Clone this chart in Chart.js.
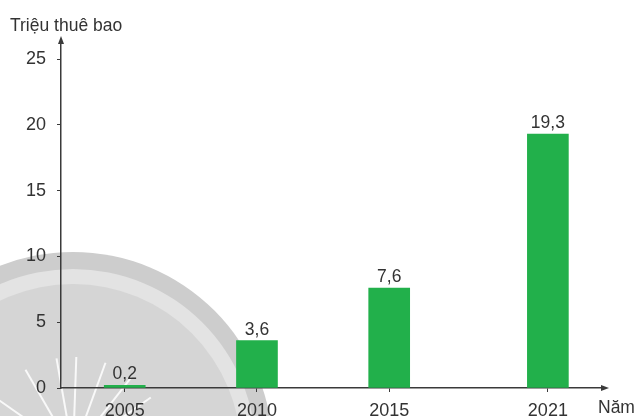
<!DOCTYPE html>
<html>
<head>
<meta charset="utf-8">
<title>Triệu thuê bao</title>
<script src="https://cdn.jsdelivr.net/npm/chart.js@4"></script>
<style>
    html, body { margin: 0; padding: 0; background: #fff; }
</style>
</head>
<body>
<canvas id="chart" width="634" height="416"></canvas>
<script>
const years = [2005, 2010, 2015, 2021];
const subscribers = [0.2, 3.6, 7.6, 19.3];
const yTicks = [0, 5, 10, 15, 20, 25];

const FONT = '"Liberation Sans", Arial, sans-serif';
const TEXT = '#333333';
const AXIS = '#3a3a3a';

// Vietnamese style decimals: 19,3
const fmt = (v) => String(v).replace('.', ',');

/**
 * Background watermark, axis arrows, axis captions and the value labels
 * above each bar.
 */
const decor = {
    id: 'decor',
    beforeDraw(chart) {
        const ctx = chart.ctx;
        const cx = 73, cy = 452;
        ctx.save();
        ctx.fillStyle = '#cdcdcd';
        ctx.beginPath(); ctx.arc(cx, cy, 200, 0, Math.PI * 2); ctx.fill();
        ctx.fillStyle = '#e3e3e3';
        ctx.beginPath(); ctx.arc(cx, cy, 183, 0, Math.PI * 2); ctx.fill();
        ctx.fillStyle = '#d5d5d5';
        ctx.beginPath(); ctx.arc(cx, cy, 168, 0, Math.PI * 2); ctx.fill();
        // faint rays in the lower left
        ctx.strokeStyle = 'rgba(255,255,255,0.85)';
        ctx.lineWidth = 2;
        [-165, -145, -120, -100, -88, -70, -52, -35].forEach((deg) => {
            const a = deg * Math.PI / 180;
            ctx.beginPath();
            ctx.moveTo(cx + Math.cos(a) * 20, cy + Math.sin(a) * 20);
            ctx.lineTo(cx + Math.cos(a) * 95, cy + Math.sin(a) * 95);
            ctx.stroke();
        });
        ctx.restore();
    },
    afterDatasetsDraw(chart) {
        const ctx = chart.ctx;
        ctx.save();
        ctx.fillStyle = TEXT;
        ctx.font = '17.5px ' + FONT;
        ctx.textAlign = 'center';
        ctx.textBaseline = 'alphabetic';
        chart.getDatasetMeta(0).data.forEach((bar, i) => {
            ctx.fillText(fmt(subscribers[i]), bar.x, bar.y - 6);
        });
        ctx.restore();
    },
    afterDraw(chart) {
        const ctx = chart.ctx;
        const { left, right, top, bottom } = chart.chartArea;
        ctx.save();
        ctx.fillStyle = AXIS;
        // arrow on the value axis
        ctx.beginPath();
        ctx.moveTo(left, top - 4);
        ctx.lineTo(left - 3, top + 4);
        ctx.lineTo(left + 3, top + 4);
        ctx.closePath();
        ctx.fill();
        // arrow on the year axis
        ctx.beginPath();
        ctx.moveTo(right + 4, bottom);
        ctx.lineTo(right - 4, bottom - 3);
        ctx.lineTo(right - 4, bottom + 3);
        ctx.closePath();
        ctx.fill();

        ctx.fillStyle = TEXT;
        ctx.font = '17.5px ' + FONT;
        ctx.textAlign = 'left';
        ctx.textBaseline = 'alphabetic';
        ctx.fillText('Triệu thuê bao', 10, 31);
        ctx.fillText('Năm', 598, 413);
        ctx.restore();
    },
};

const tickFont = { family: FONT, size: 18 };

new Chart(document.getElementById('chart'), {
    type: 'bar',
    data: {
        datasets: [{
            data: years.map((year, i) => ({ x: year, y: subscribers[i] })),
            backgroundColor: '#22b04b',
            borderWidth: 0,
            barThickness: 41,
        }],
    },
    options: {
        responsive: false,
        animation: false,
        layout: { padding: { top: 40, right: 29, left: 0, bottom: 0 } },
        plugins: { legend: { display: false }, tooltip: { enabled: false } },
        scales: {
            x: {
                type: 'linear',
                min: 2002.59,
                max: 2023.16,
                offset: false,
                grid: { offset: false, drawOnChartArea: false, drawTicks: true, tickLength: 4, color: AXIS },
                border: { color: AXIS, width: 1.5 },
                ticks: { font: tickFont, color: TEXT, padding: 8, callback: (v) => String(v) },
                afterBuildTicks: (scale) => { scale.ticks = years.map((v) => ({ value: v })); },
                afterFit: (scale) => { scale.height = 28; },
            },
            y: {
                min: 0,
                max: 26.46,
                grid: { drawOnChartArea: false, drawTicks: true, tickLength: 4, color: AXIS },
                border: { color: AXIS, width: 1.5 },
                ticks: { font: tickFont, color: TEXT, padding: 11, callback: (v) => String(v) },
                afterBuildTicks: (scale) => { scale.ticks = yTicks.map((v) => ({ value: v })); },
                afterFit: (scale) => { scale.width = 61; },
            },
        },
    },
    plugins: [decor],
});
</script>
</body>
</html>
